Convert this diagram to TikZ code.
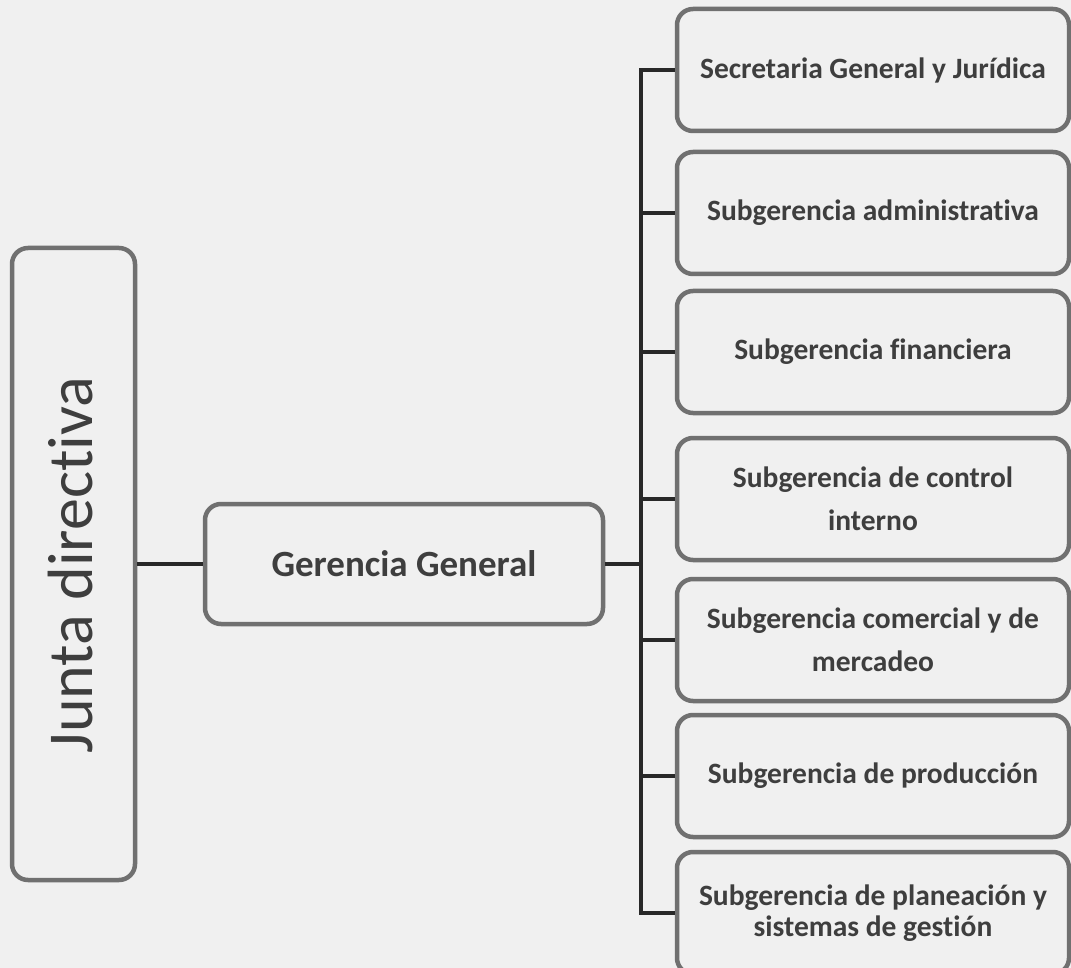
\documentclass[tikz,border=0pt]{standalone}
\usepackage{fontspec}
\setmainfont{Carlito}[Ligatures={NoCommon}]
\definecolor{bgcol}{RGB}{240,240,240}
\definecolor{boxcol}{RGB}{112,112,112}
\definecolor{linecol}{RGB}{40,40,40}
\definecolor{txtcol}{RGB}{62,62,62}
\begin{document}
\begin{tikzpicture}[x=1pt,y=-1pt,
  orgbox/.style={draw=boxcol, line width=4.5pt, rounded corners=16pt, rectangle, inner sep=0pt, text=txtcol, align=center},
  subbox/.style={orgbox, minimum width=392pt, minimum height=122pt, font=\bfseries\fontsize{29.5}{43}\selectfont},
  link/.style={draw=linecol, line width=4pt}]
\fill[bgcol] (0,0) rectangle (1071,968);
\useasboundingbox (0,0) rectangle (1071,968);

\node[orgbox, minimum width=123pt, minimum height=632pt] (junta) at (73.5,564) {};
\node[text=txtcol, rotate=90, font=\fontsize{64}{70}\selectfont] (juntatxt) at (71,565) {Junta directiva};
\node[orgbox, minimum width=398pt, minimum height=120pt, font=\bfseries\fontsize{37}{40}\selectfont] (ger) at (404,564) {Gerencia General};

\node[subbox] (b1) at (873,70) {Secretaria General y Jurídica};
\node[subbox] (b2) at (873,213) {Subgerencia administrativa};
\node[subbox] (b3) at (873,352) {Subgerencia financiera};
\node[subbox] (b4) at (873,499) {Subgerencia de control\\interno};
\node[subbox] (b5) at (873,640) {Subgerencia comercial y de\\mercadeo};
\node[subbox] (b6) at (873,776) {Subgerencia de producción};
\node[subbox, font=\bfseries\fontsize{29.5}{31}\selectfont] (b7) at (873,913) {Subgerencia de planeación y\\sistemas de gestión};

\coordinate (t1) at (641,70);
\coordinate (t7) at (641,913);

\draw[link] (junta.east) -- (ger.west);
\draw[link] (ger.east) -- (ger.east -| t1);
\draw[link, line cap=rect] (t1) -- (t7);
\foreach \b in {b1,b2,b3,b4,b5,b6,b7}{
  \draw[link] (\b.west -| t1) -- (\b.west);
}
\end{tikzpicture}
\end{document}
